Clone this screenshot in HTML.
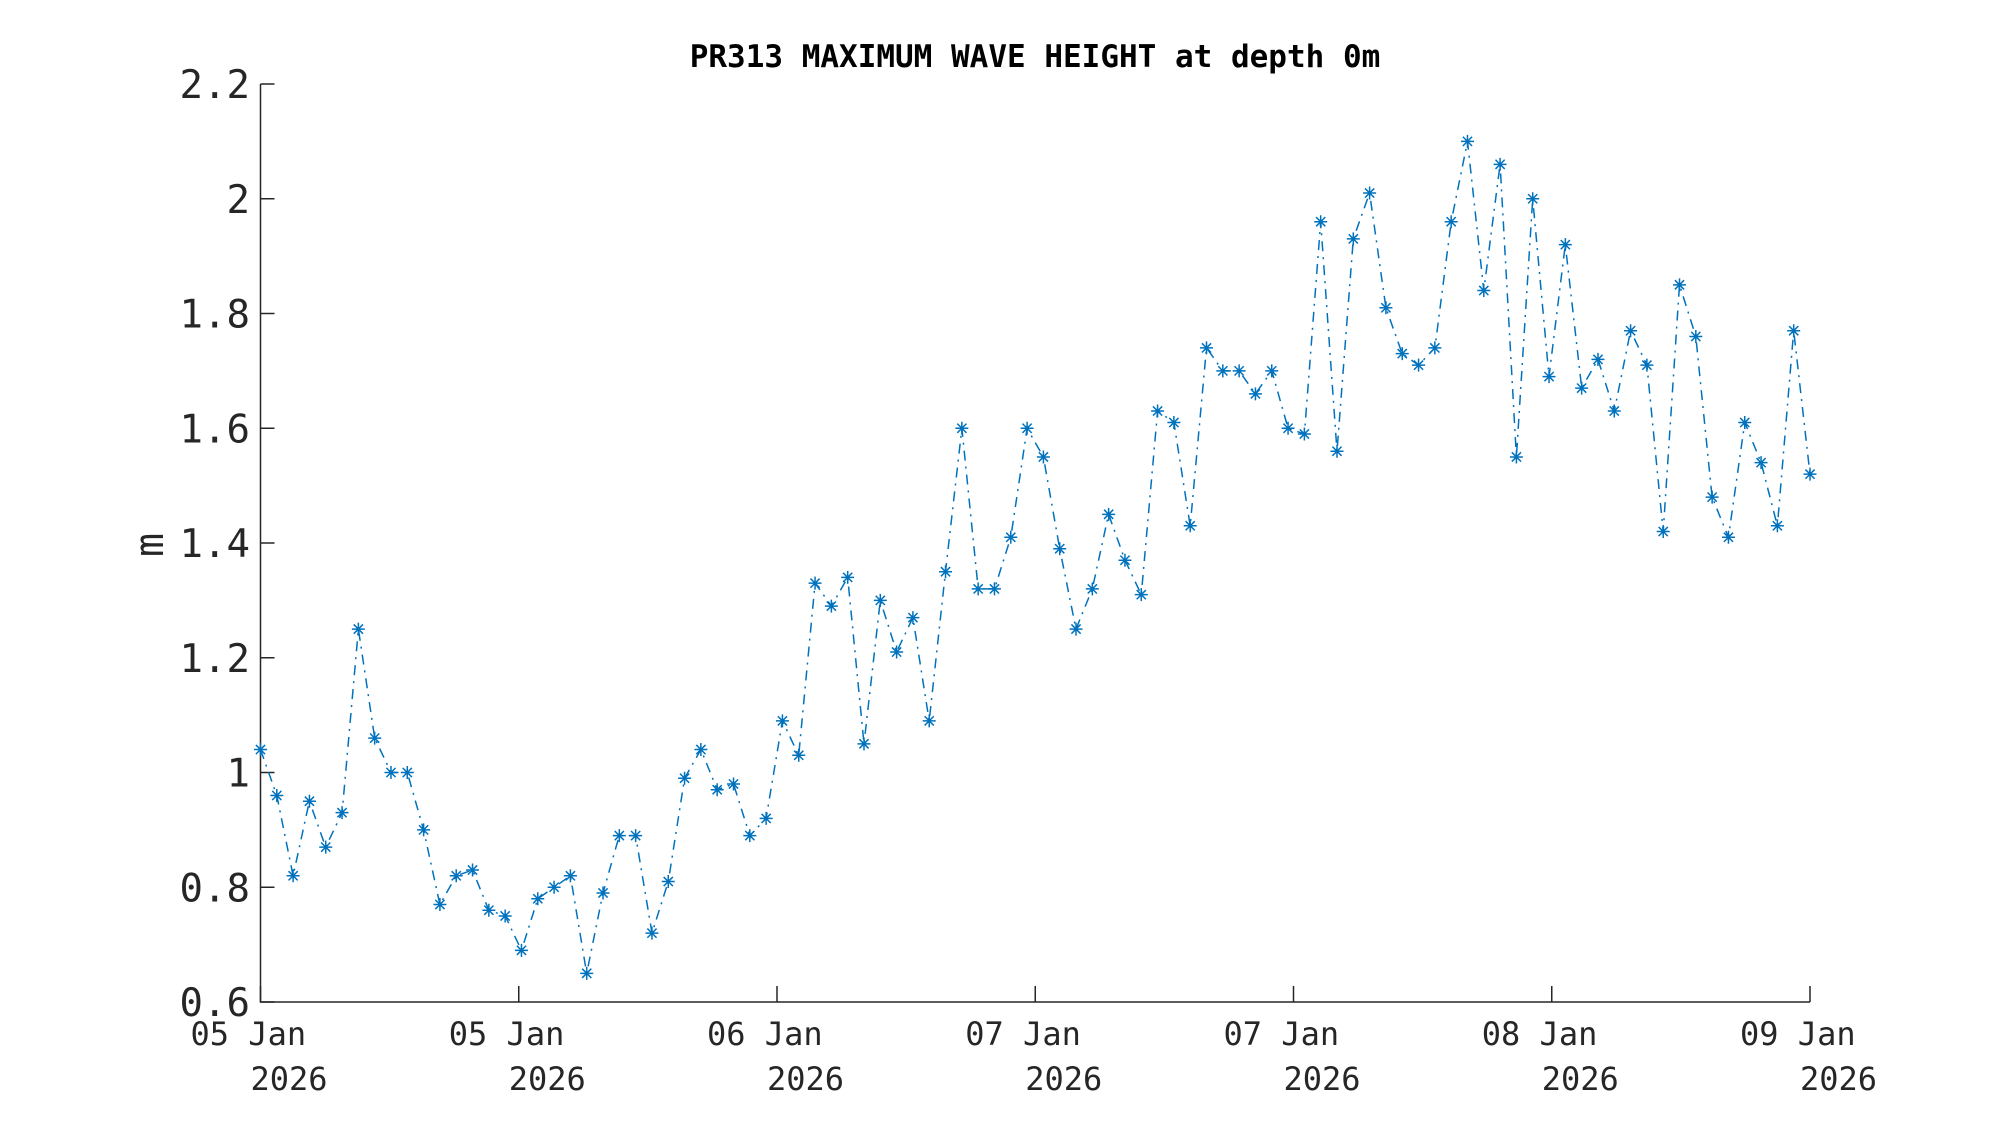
<!DOCTYPE html>
<html><head><meta charset="utf-8"><style>
html,body{margin:0;padding:0;background:#fff;}
svg{display:block;}
text{fill:#262626;font-family:"DejaVu Sans Mono","Liberation Mono",monospace;}
</style></head><body>
<svg id="s" width="2000" height="1125" viewBox="0 0 2000 1125" xmlns="http://www.w3.org/2000/svg">
<rect width="2000" height="1125" fill="#fff"/>
<text x="1035" y="67" font-size="31" font-weight="bold" text-anchor="middle" style="fill:#000">PR313 MAXIMUM WAVE HEIGHT at depth 0m</text>
<text transform="translate(163,545) rotate(-90)" font-size="40" text-anchor="middle">m</text>
<g id="ax" stroke="#262626" stroke-width="1.5" fill="none"></g>
<g id="yl" font-size="39" text-anchor="end"></g>
<g id="xl" font-size="32"></g>
<polyline id="ln" fill="none" stroke="#0072BD" stroke-width="1.5" stroke-dasharray="10,6,2,6"/>
<g id="mk" stroke="#0072BD" stroke-width="1.5"></g>
</svg>
<script>
var d=[1.04,0.96,0.82,0.95,0.87,0.93,1.25,1.06,1.00,1.00,0.90,0.77,0.82,0.83,0.76,0.75,0.69,0.78,0.80,0.82,0.65,0.79,0.89,0.89,0.72,0.81,0.99,1.04,0.97,0.98,0.89,0.92,1.09,1.03,1.33,1.29,1.34,1.05,1.30,1.21,1.27,1.09,1.35,1.60,1.32,1.32,1.41,1.60,1.55,1.39,1.25,1.32,1.45,1.37,1.31,1.63,1.61,1.43,1.74,1.70,1.70,1.66,1.70,1.60,1.59,1.96,1.56,1.93,2.01,1.81,1.73,1.71,1.74,1.96,2.10,1.84,2.06,1.55,2.00,1.69,1.92,1.67,1.72,1.63,1.77,1.71,1.42,1.85,1.76,1.48,1.41,1.61,1.54,1.43,1.77,1.52];
var L=260.5,R=1810,T=84,B=1002,NS="http://www.w3.org/2000/svg";
function X(i){return L+(R-L)*i/95;}function Y(v){return B-(v-0.6)/1.6*(B-T);}
function el(p,t,a,txt){var e=document.createElementNS(NS,t);for(var k in a)e.setAttribute(k,a[k]);if(txt)e.textContent=txt;document.getElementById(p).appendChild(e);}
el("ax","path",{d:"M"+L+" "+T+"V"+B+"H"+R});
for(var k=0;k<=8;k++){var v=0.6+0.2*k,y=Y(v);el("ax","path",{d:"M"+L+" "+y+"h14"});
var s=(Math.round(v*10)/10).toString();el("yl","text",{x:250,y:y+14},s);}
var lab=["05 Jan","05 Jan","06 Jan","07 Jan","07 Jan","08 Jan","09 Jan"];
for(var k=0;k<7;k++){var x=L+(R-L)*k/6;el("ax","path",{d:"M"+x+" "+B+"v-16"});
el("xl","text",{x:x-70,y:1045},lab[k]);el("xl","text",{x:x-10,y:1090},"2026");}
var pts=d.map(function(v,i){return X(i).toFixed(1)+","+Y(v).toFixed(1);}).join(" ");
document.getElementById("ln").setAttribute("points",pts);
d.forEach(function(v,i){var x=X(i),y=Y(v),r=6.5,q=4.6;
el("mk","path",{d:"M"+(x-r)+" "+y+"h"+2*r+"M"+x+" "+(y-r)+"v"+2*r+"M"+(x-q)+" "+(y-q)+"l"+2*q+" "+2*q+"M"+(x-q)+" "+(y+q)+"l"+2*q+" "+(-2*q)});});
</script>
</body></html>
